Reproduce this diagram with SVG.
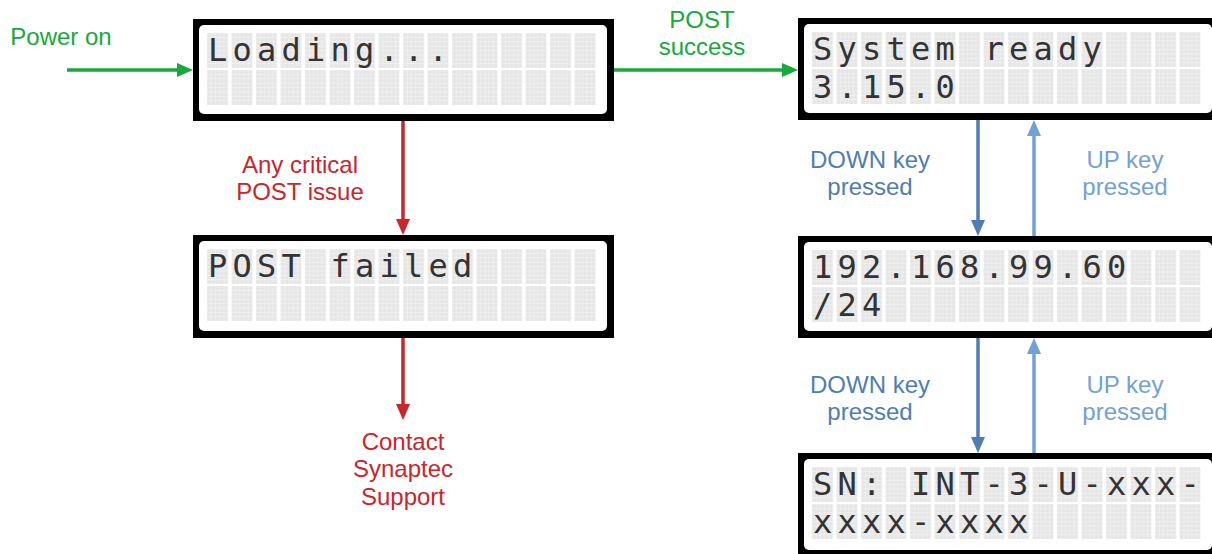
<svg xmlns="http://www.w3.org/2000/svg" width="1212" height="554" viewBox="0 0 1212 554">
<defs>
<style>
.lbl{font-family:"Liberation Sans",Arial,sans-serif;font-size:24px;text-anchor:middle}
.g{fill:#18a83c}.r{fill:#c9252b}.bd{fill:#4f7db3}.bu{fill:#72a1d6}
.lcd{font-family:"DejaVu Sans Mono",monospace;font-size:32px;letter-spacing:5.24px;fill:#333}
.outer{fill:#000}
.inner{fill:#fff}
.ln{stroke-width:3.5;fill:none}
</style>
<pattern id="cells" patternUnits="userSpaceOnUse" x="14" y="14" width="24.5" height="37">
<rect x="0" y="0" width="21" height="35" fill="#f4f4f4"/>
<g fill="#e6e6e6">
<rect x="0.3" y="0.3" width="3.6" height="3.8"/><rect x="4.5" y="0.3" width="3.6" height="3.8"/><rect x="8.7" y="0.3" width="3.6" height="3.8"/><rect x="12.9" y="0.3" width="3.6" height="3.8"/><rect x="17.1" y="0.3" width="3.6" height="3.8"/>
<rect x="0.3" y="4.7" width="3.6" height="3.8"/><rect x="4.5" y="4.7" width="3.6" height="3.8"/><rect x="8.7" y="4.7" width="3.6" height="3.8"/><rect x="12.9" y="4.7" width="3.6" height="3.8"/><rect x="17.1" y="4.7" width="3.6" height="3.8"/>
<rect x="0.3" y="9.1" width="3.6" height="3.8"/><rect x="4.5" y="9.1" width="3.6" height="3.8"/><rect x="8.7" y="9.1" width="3.6" height="3.8"/><rect x="12.9" y="9.1" width="3.6" height="3.8"/><rect x="17.1" y="9.1" width="3.6" height="3.8"/>
<rect x="0.3" y="13.5" width="3.6" height="3.8"/><rect x="4.5" y="13.5" width="3.6" height="3.8"/><rect x="8.7" y="13.5" width="3.6" height="3.8"/><rect x="12.9" y="13.5" width="3.6" height="3.8"/><rect x="17.1" y="13.5" width="3.6" height="3.8"/>
<rect x="0.3" y="17.9" width="3.6" height="3.8"/><rect x="4.5" y="17.9" width="3.6" height="3.8"/><rect x="8.7" y="17.9" width="3.6" height="3.8"/><rect x="12.9" y="17.9" width="3.6" height="3.8"/><rect x="17.1" y="17.9" width="3.6" height="3.8"/>
<rect x="0.3" y="22.3" width="3.6" height="3.8"/><rect x="4.5" y="22.3" width="3.6" height="3.8"/><rect x="8.7" y="22.3" width="3.6" height="3.8"/><rect x="12.9" y="22.3" width="3.6" height="3.8"/><rect x="17.1" y="22.3" width="3.6" height="3.8"/>
<rect x="0.3" y="26.7" width="3.6" height="3.8"/><rect x="4.5" y="26.7" width="3.6" height="3.8"/><rect x="8.7" y="26.7" width="3.6" height="3.8"/><rect x="12.9" y="26.7" width="3.6" height="3.8"/><rect x="17.1" y="26.7" width="3.6" height="3.8"/>
<rect x="0.3" y="31.1" width="3.6" height="3.8"/><rect x="4.5" y="31.1" width="3.6" height="3.8"/><rect x="8.7" y="31.1" width="3.6" height="3.8"/><rect x="12.9" y="31.1" width="3.6" height="3.8"/><rect x="17.1" y="31.1" width="3.6" height="3.8"/>
</g>
</pattern>
<marker id="ag" markerUnits="userSpaceOnUse" markerWidth="16" markerHeight="14" refX="1" refY="7" orient="auto"><path d="M0,0 L16,7 L0,14 z" fill="#18a83c"/></marker>
<marker id="ar" markerUnits="userSpaceOnUse" markerWidth="16" markerHeight="14" refX="1" refY="7" orient="auto"><path d="M0,0 L16,7 L0,14 z" fill="#c9252b"/></marker>
<marker id="abd" markerUnits="userSpaceOnUse" markerWidth="16" markerHeight="14" refX="1" refY="7" orient="auto"><path d="M0,0 L16,7 L0,14 z" fill="#4f7db3"/></marker>
<marker id="abu" markerUnits="userSpaceOnUse" markerWidth="16" markerHeight="14" refX="1" refY="7" orient="auto"><path d="M0,0 L16,7 L0,14 z" fill="#72a1d6"/></marker>
</defs>
<rect width="1212" height="554" fill="#fff"/>

<g id="connectors">
<line class="ln" x1="67" y1="70" x2="178" y2="70" stroke="#18a83c" marker-end="url(#ag)"/>
<line class="ln" x1="614" y1="70" x2="783" y2="70" stroke="#18a83c" marker-end="url(#ag)"/>
<line class="ln" x1="403" y1="121" x2="403" y2="220" stroke="#c9252b" marker-end="url(#ar)"/>
<line class="ln" x1="403" y1="338" x2="403" y2="405" stroke="#c9252b" marker-end="url(#ar)"/>
<line class="ln" x1="978" y1="120" x2="978" y2="221" stroke="#4f7db3" marker-end="url(#abd)"/>
<line class="ln" x1="1034" y1="236" x2="1034" y2="135" stroke="#72a1d6" marker-end="url(#abu)"/>
<line class="ln" x1="978" y1="338" x2="978" y2="438" stroke="#4f7db3" marker-end="url(#abd)"/>
<line class="ln" x1="1034" y1="453" x2="1034" y2="353" stroke="#72a1d6" marker-end="url(#abu)"/>
<text class="lbl g" x="61" y="45">Power on</text>
<text class="lbl g" x="702" y="28">POST</text>
<text class="lbl g" x="702" y="55">success</text>
<text class="lbl r" x="300" y="173">Any critical</text>
<text class="lbl r" x="300" y="200">POST issue</text>
<text class="lbl bd" x="870" y="168">DOWN key</text>
<text class="lbl bd" x="870" y="195">pressed</text>
<text class="lbl bu" x="1125" y="168">UP key</text>
<text class="lbl bu" x="1125" y="195">pressed</text>
<text class="lbl bd" x="870" y="393">DOWN key</text>
<text class="lbl bd" x="870" y="420">pressed</text>
<text class="lbl bu" x="1125" y="393">UP key</text>
<text class="lbl bu" x="1125" y="420">pressed</text>
</g>

<g id="lcd-loading" transform="translate(193,19)">
<rect class="outer" width="421" height="102"/>
<rect class="inner" x="6" y="6" width="408" height="89" rx="5"/>
<rect x="14" y="14" width="392" height="74" fill="url(#cells)"/>
<text class="lcd" x="14.9" y="42">Loading...</text>
</g>

<g id="lcd-post-failed" transform="translate(193,235)">
<rect class="outer" width="421" height="103"/>
<rect class="inner" x="6" y="6" width="408" height="90" rx="5"/>
<rect x="14" y="14" width="392" height="74" fill="url(#cells)"/>
<text class="lcd" x="14.9" y="42">POST failed</text>
</g>

<g id="contact-support">
<text class="lbl r" x="403" y="450">Contact</text>
<text class="lbl r" x="403" y="477">Synaptec</text>
<text class="lbl r" x="403" y="505">Support</text>
</g>

<g id="lcd-system-ready" transform="translate(798,18)">
<rect class="outer" width="421" height="102"/>
<rect class="inner" x="6" y="6" width="408" height="89" rx="5"/>
<rect x="14" y="14" width="392" height="74" fill="url(#cells)"/>
<text class="lcd" x="14.9" y="42">System ready</text>
<text class="lcd" x="14.9" y="80">3.15.0</text>
</g>

<g id="lcd-ip" transform="translate(798,236)">
<rect class="outer" width="421" height="102"/>
<rect class="inner" x="6" y="6" width="408" height="89" rx="5"/>
<rect x="14" y="14" width="392" height="74" fill="url(#cells)"/>
<text class="lcd" x="14.9" y="42">192.168.99.60</text>
<text class="lcd" x="14.9" y="80">/24</text>
</g>

<g id="lcd-serial" transform="translate(798,453)">
<rect class="outer" width="421" height="103"/>
<rect class="inner" x="6" y="6" width="408" height="91" rx="5"/>
<rect x="14" y="14" width="392" height="74" fill="url(#cells)"/>
<text class="lcd" x="14.9" y="42">SN: INT-3-U-xxx-</text>
<text class="lcd" x="14.9" y="80">xxxx-xxxx</text>
</g>
</svg>
